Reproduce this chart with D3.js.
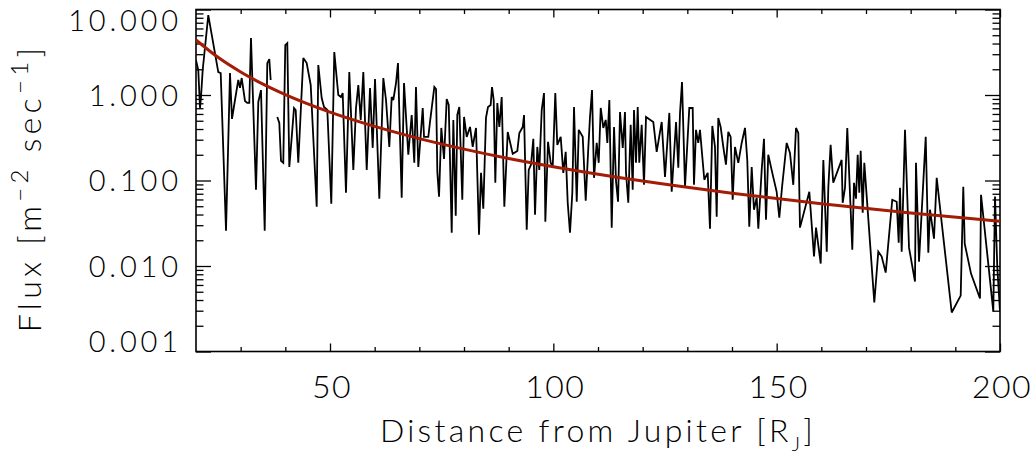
<!DOCTYPE html>
<html><head><meta charset="utf-8">
<script src="https://cdn.jsdelivr.net/npm/d3@7"></script>
<style>
body{margin:0;background:#fff;}
svg text{font-family:Lato,"DejaVu Sans",sans-serif;font-weight:300;fill:#000;}
</style></head><body>
<svg id="chart" width="1034" height="459"></svg>
<script>
const distance = [20.00,20.51,20.90,21.12,21.50,22.75,24.99,25.53,26.72,27.61,28.06,28.73,29.47,29.85,30.23,30.97,31.48,31.93,32.31,33.43,33.95,34.55,35.38,35.96,36.41,36.72,37.5,
38.20,38.65,39.03,39.54,39.99,40.44,40.89,41.42,41.94,42.32,42.90,44.02,44.78,45.68,47.02,47.38,48.14,48.66,49.40,50.29,50.96,51.86,52.46,52.84,53.58,54.32,55.22,55.82,56.34,56.88,57.46,58.22,58.96,59.56,60.08,61.04,61.94,62.54,63.28,63.81,64.17,64.78,65.22,66.05,
66.57,67.53,68.29,68.87,69.25,69.77,70.76,71.05,72.01,72.39,73.36,73.74,74.03,74.41,74.92,75.53,76.13,76.58,77.25,77.61,78.15,78.50,78.95,79.62,80.01,80.61,81.35,81.95,82.69,83.36,83.81,84.32,84.92,85.37,85.97,86.27,86.65,87.01,87.46,87.91,88.44,89.03,89.79,90.91,91.94,92.39,93.15,93.44,94.04,94.49,95.00,95.52,95.90,96.41,96.86,97.40,97.91,98.21,98.81,99.41,99.86,100.44,100.89,101.65,102.23,102.77,103.22,103.73,104.25,104.63,105.24,105.69,106.58,107.25,107.84,108.21,108.66,109.11,109.71,110.16,110.61,111.19,111.73,112.09,112.54,113.07,
113.59,114.04,114.49,114.93,115.54,116.04,116.27,116.78,117.32,117.77,118.06,118.51,118.89,119.24,119.78,120.30,120.75,122.38,123.14,124.26,125.00,125.97,126.50,127.47,127.98,128.36,128.81,129.48,130.44,131.20,131.49,131.94,132.45,132.83,133.80,134.56,135.07,135.59,136.19,136.57,136.93,137.46,138.05,138.65,139.17,139.70,140.15,140.67,141.41,142.17,142.91,143.42,143.87,144.41,144.92,145.53,145.89,146.65,147.16,147.61,148.12,149.11,150.00,150.59,151.19,152.24,152.98,153.72,154.33,154.84,155.22,
157.31,158.36,158.81,159.86,160.45,161.21,161.57,162.08,162.67,164.55,164.78,165.30,165.81,166.93,167.31,167.76,168.14,168.50,168.81,169.26,169.62,171.86,172.75,173.51,174.41,175.88,176.87,177.32,177.61,177.99,178.73,179.63,180.97,181.19,181.87,183.37,183.95,184.33,185.22,185.83,189.19,191.20,191.78,192.10,193.51,195.52,195.75,198.50,198.88,199.39,200.00];

const flux = [2.56,1.96,0.705,0.948,1.96,8.58,1.855,1.806,0.0259,1.81,0.525,0.874,1.50,1.21,1.58,0.851,0.807,0.807,4.63,0.0779,0.829,1.14,0.0259,2.36,2.63,1.50,null,
0.554,0.471,0.170,0.161,3.83,4.04,0.144,0.315,0.705,0.668,0.161,2.70,2.36,1.31,0.0493,2.24,0.923,0.724,0.668,0.0535,3.18,1.00,0.948,1.055,0.0719,1.855,0.133,0.705,1.31,0.511,1.855,0.133,1.21,0.241,1.54,0.0612,1.58,0.874,0.247,0.948,0.874,1.38,2.36,0.0628,
1.38,0.200,0.584,0.161,1.24,0.144,0.705,0.324,0.324,0.484,1.24,1.175,0.126,0.0645,0.412,0.179,0.898,0.764,0.0245,0.511,0.0387,0.584,0.724,0.0595,0.554,0.324,0.423,0.247,0.412,0.0232,0.123,0.0467,0.539,0.724,0.764,1.24,0.874,0.094,0.807,0.423,0.948,0.0493,0.370,0.205,0.222,0.360,0.423,0.584,0.0266,0.133,0.153,0.307,0.0398,0.247,0.133,0.668,1.055,0.033,0.283,0.161,0.144,1.055,0.261,0.324,0.123,0.216,0.0549,0.0245,0.0719,0.724,0.0564,0.391,0.324,0.058,0.247,0.554,1.14,0.1075,0.275,0.161,0.705,0.412,0.511,0.275,0.874,0.0281,
0.423,0.0966,0.0564,0.633,0.241,0.633,0.123,0.0549,0.447,0.0779,0.668,0.161,0.724,0.161,0.447,0.0891,0.554,0.484,0.216,0.484,0.110,0.617,0.0738,0.484,0.141,0.617,1.42,0.0844,0.705,0.705,0.0891,0.391,0.275,0.391,0.102,0.123,0.0273,0.435,0.247,0.0377,0.539,0.423,0.247,0.153,0.370,0.324,0.0595,0.247,0.161,0.275,0.412,0.174,0.0288,0.144,0.0455,0.0628,0.0273,0.133,0.307,0.0348,0.200,0.117,0.0738,0.0367,0.0822,0.275,0.210,0.0891,0.412,0.360,0.0281,
0.0738,0.0129,0.0281,0.01067,0.174,0.0147,0.0844,0.261,0.094,0.174,0.0549,0.0822,0.412,0.0155,0.094,0.0612,0.200,0.0719,0.222,0.042,0.161,0.00374,0.0147,0.0129,0.00838,0.0595,0.0564,0.01875,0.0822,0.0147,0.391,0.0164,0.00657,0.161,0.01125,0.324,0.0143,0.0455,0.0209,0.1075,0.00286,0.00451,0.0844,0.01825,0.00815,0.00417,0.0681,0.00294,0.0649,0.00984,0.00294];

const fitDistance = [20,25,30,35,40,50,60,70,80,90,100,120,140,160,180,200];
const fitFlux = [4.40,2.74,1.86,1.34,1.01,0.63,0.429,0.309,0.233,0.181,0.145,0.0985,0.0711,0.0536,0.0417,0.0334];

const xMajorTicks = [50,100,150,200];
const xMinorTicks = [30,40,60,70,80,90,110,120,130,140,160,170,180,190];
const yMajorTicks = [0.001,0.01,0.1,1,10];
const yTickLabels = ["0.001","0.010","0.100","1.000","10.000"];

const svg = d3.select("#chart");
const L=196,R=1000,T=9.5,B=351.5;
const x = d3.scaleLinear().domain([20,200]).range([L,R]);
const y = d3.scaleLog().domain([0.001,10]).range([B,T]);

const yMinorTicks = [];
[0.001,0.01,0.1,1].forEach(d=>{for(let k=2;k<=9;k++) yMinorTicks.push(+(d*k).toPrecision(3));});

svg.append("rect").attr("x",L).attr("y",T).attr("width",R-L).attr("height",B-T)
  .attr("fill","none").attr("stroke","#000").attr("stroke-width",1.6);

function styleAxis(g){ g.select(".domain").remove(); g.selectAll("line").attr("stroke","#000").attr("stroke-width",1.3); }

svg.append("g").attr("transform",`translate(0,${B})`)
  .call(d3.axisBottom(x).tickValues(xMinorTicks).tickSize(-4.5).tickFormat("")).call(styleAxis);
svg.append("g").attr("transform",`translate(0,${T})`)
  .call(d3.axisTop(x).tickValues(xMinorTicks).tickSize(-4.5).tickFormat("")).call(styleAxis);
svg.append("g").attr("transform",`translate(0,${T})`)
  .call(d3.axisTop(x).tickValues(xMajorTicks).tickSize(-8).tickFormat("")).call(styleAxis);
const xAx = svg.append("g").attr("transform",`translate(0,${B})`)
  .call(d3.axisBottom(x).tickValues(xMajorTicks).tickSize(-8).tickPadding(24).tickFormat(d3.format("d"))).call(styleAxis);
xAx.selectAll("text").attr("font-size",32).attr("dy","0.71em").attr("dx","1.5px")
  .style("font-family","Lato, 'DejaVu Sans', sans-serif").style("font-weight",300).style("letter-spacing","1.5px");

svg.append("g").attr("transform",`translate(${L},0)`)
  .call(d3.axisLeft(y).tickValues(yMinorTicks).tickSize(-7.5).tickFormat("")).call(styleAxis);
svg.append("g").attr("transform",`translate(${R},0)`)
  .call(d3.axisRight(y).tickValues(yMinorTicks).tickSize(-7.5).tickFormat("")).call(styleAxis);
svg.append("g").attr("transform",`translate(${R},0)`)
  .call(d3.axisRight(y).tickValues(yMajorTicks).tickSize(-15).tickFormat("")).call(styleAxis);
const yAx = svg.append("g").attr("transform",`translate(${L},0)`)
  .call(d3.axisLeft(y).tickValues(yMajorTicks).tickSize(-15).tickPadding(18)
    .tickFormat((d,i)=>yTickLabels[i])).call(styleAxis);
yAx.selectAll("text").attr("font-size",29).attr("dy","0.36em")
  .style("font-family","Lato, 'DejaVu Sans', sans-serif").style("font-weight",300).style("letter-spacing","3.8px")
  .attr("dx","3.8px")
  .attr("y",d=> d===10 ? 10.5 : (d===0.001 ? -10 : 0));

svg.append("clipPath").attr("id","clip").append("rect").attr("x",L).attr("y",T).attr("width",R-L).attr("height",B-T);

const pts = distance.map((d,i)=>({d, f: flux[i]}));
const line = d3.line().defined(p=>p.f!=null).x(p=>x(p.d)).y(p=>y(p.f));
svg.append("path").datum(pts).attr("clip-path","url(#clip)").attr("d",line)
  .attr("fill","none").attr("stroke","#000").attr("stroke-width",1.8).attr("stroke-linejoin","miter").attr("stroke-miterlimit",3);

const fitPts = fitDistance.map((d,i)=>({d,f:fitFlux[i]}));
svg.append("path").datum(fitPts).attr("clip-path","url(#clip)")
  .attr("d", d3.line().curve(d3.curveMonotoneX).x(p=>x(p.d)).y(p=>y(p.f)))
  .attr("fill","none").attr("stroke","#a31c06").attr("stroke-width",3);

const xt = svg.append("text").attr("x",(L+R)/2).attr("y",442).attr("text-anchor","middle")
  .attr("font-size",32).style("letter-spacing","3.3px");
xt.append("tspan").text("Distance from Jupiter [R");
xt.append("tspan").attr("dy",9).attr("font-size",20).text("J");
xt.append("tspan").attr("dy",-9).text("]");

const yt = svg.append("text").attr("transform",`translate(41,188) rotate(-90)`).attr("text-anchor","middle")
  .attr("font-size",32).style("letter-spacing","4.3px");
yt.append("tspan").text("Flux [m");
yt.append("tspan").attr("dy",-13).attr("font-size",24).text("−2");
yt.append("tspan").attr("dy",13).text(" sec");
yt.append("tspan").attr("dy",-13).attr("font-size",24).text("−1");
yt.append("tspan").attr("dy",13).text("]");
</script></body></html>
